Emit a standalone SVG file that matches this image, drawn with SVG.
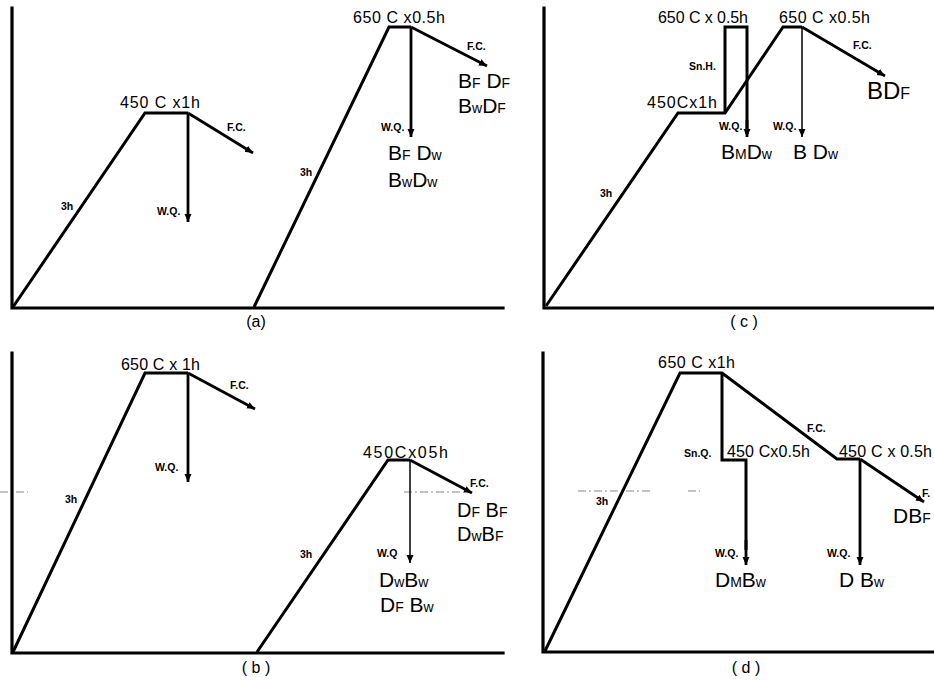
<svg xmlns="http://www.w3.org/2000/svg" width="934" height="680" viewBox="0 0 934 680">
<style>
.ax{stroke:#000;stroke-width:3.2;fill:none;stroke-linecap:square}
.ln{stroke:#000;stroke-width:3;fill:none;stroke-linejoin:miter;stroke-linecap:butt}
.ar{stroke:#000;stroke-width:2.8;fill:none;marker-end:url(#ah)}
.th{stroke:#000;stroke-width:1.5;fill:none;marker-end:url(#ah)}
.ds{stroke:#888;stroke-width:1;stroke-dasharray:8 3 2 3;fill:none}
text{font-family:"Liberation Sans",Arial,sans-serif;fill:#000}
.t{font-size:16px}
.s{font-size:10.5px;font-weight:bold}
.b{font-size:21px}
.sub{font-size:14px}
.c{font-size:16px;text-anchor:middle}
</style>
<defs>
<marker id="ah" markerUnits="userSpaceOnUse" markerWidth="10" markerHeight="8" refX="8" refY="3.5" orient="auto">
<path d="M0,0 L8,3.5 L0,7 z" fill="#000"/>
</marker>
</defs>
<rect width="934" height="680" fill="#fff"/>
<g id="scan-marks">
<path class="ds" d="M0,492 H28 M404,492 H470 M578,491 H650 M688,491 H700"/>
</g>
<g id="panel-a">
<path class="ax" d="M12,8 V308 H503"/>
<path class="ln" d="M13,307 L145,113 L188,113"/>
<path class="ln" d="M254,307 L389,27 L411,27"/>
<text class="t" x="120" y="108" textLength="80" lengthAdjust="spacing">450 C x1h</text>
<text class="t" x="353" y="23" textLength="92" lengthAdjust="spacing">650 C x0.5h</text>
<text class="s" x="227" y="131">F.C.</text>
<text class="s" x="157" y="215">W.Q.</text>
<text class="s" x="61" y="210">3h</text>
<text class="s" x="381" y="131">W.Q.</text>
<text class="s" x="300" y="176">3h</text>
<text class="s" x="467" y="50">F.C.</text>
<text class="b" x="458" y="88">B<tspan class="sub">F</tspan> D<tspan class="sub">F</tspan></text>
<text class="b" x="458" y="113">B<tspan class="sub">w</tspan>D<tspan class="sub">F</tspan></text>
<text class="b" x="388" y="160">B<tspan class="sub">F</tspan> D<tspan class="sub">w</tspan></text>
<text class="b" x="388" y="187">B<tspan class="sub">w</tspan>D<tspan class="sub">w</tspan></text>
<text class="c" x="256" y="327">(a)</text>
</g>
<g id="panel-c">
<path class="ax" d="M544,8 V308 H934"/>
<path class="ln" d="M546,306 L678,113 L725,113 L783,27 L802,27"/>
<text class="t" x="658" y="23" textLength="90" lengthAdjust="spacing">650 C x 0.5h</text>
<text class="t" x="779" y="23" textLength="91" lengthAdjust="spacing">650 C x0.5h</text>
<text class="t" x="647" y="108" textLength="70" lengthAdjust="spacing">450Cx1h</text>
<text class="s" x="689" y="70">Sn.H.</text>
<text class="s" x="719" y="130">W.Q.</text>
<text class="s" x="773" y="130">W.Q.</text>
<text class="s" x="853" y="49">F.C.</text>
<text class="s" x="600" y="197">3h</text>
<text class="b" x="867" y="99" style="font-size:24px">BD<tspan class="sub" style="font-size:16px">F</tspan></text>
<text class="b" x="721" y="159">B<tspan class="sub">M</tspan>D<tspan class="sub">w</tspan></text>
<text class="b" x="793" y="159">B D<tspan class="sub">w</tspan></text>
<text class="c" x="744" y="327">( c )</text>
</g>
<g id="panel-b">
<path class="ax" d="M12,353 V653 H503"/>
<path class="ln" d="M13,652 L145,373 L188,373"/>
<path class="ln" d="M257,652 L388,460 L410,460"/>
<text class="t" x="121" y="370" textLength="79" lengthAdjust="spacing">650 C x 1h</text>
<text class="t" x="363" y="458" textLength="85" lengthAdjust="spacing">450Cx05h</text>
<text class="s" x="230" y="389">F.C.</text>
<text class="s" x="155" y="471">W.Q.</text>
<text class="s" x="65" y="503">3h</text>
<text class="s" x="300" y="558">3h</text>
<text class="s" x="470" y="487">F.C.</text>
<text class="s" x="377" y="557">W.Q</text>
<text class="b" x="457" y="517" style="font-size:20px">D<tspan class="sub">F</tspan> B<tspan class="sub">F</tspan></text>
<text class="b" x="457" y="541" style="font-size:20px">D<tspan class="sub">w</tspan>B<tspan class="sub">F</tspan></text>
<text class="b" x="379" y="587">D<tspan class="sub">w</tspan>B<tspan class="sub">w</tspan></text>
<text class="b" x="380" y="612">D<tspan class="sub">F</tspan> B<tspan class="sub">w</tspan></text>
<text class="c" x="256" y="673">( b )</text>
</g>
<g id="panel-d">
<path class="ax" d="M543,353 V652 H934"/>
<path class="ln" d="M545,651 L680,373 L722,373 L837,459 L860,459"/>
<text class="t" x="658" y="368" textLength="77" lengthAdjust="spacing">650 C x1h</text>
<text class="t" x="727" y="457" textLength="83" lengthAdjust="spacing">450 Cx0.5h</text>
<text class="t" x="839" y="457" textLength="93" lengthAdjust="spacing">450 C x 0.5h</text>
<text class="s" x="807" y="432">F.C.</text>
<text class="s" x="684" y="457">Sn.Q.</text>
<text class="s" x="922" y="497">F.</text>
<text class="s" x="596" y="505">3h</text>
<text class="s" x="715" y="557">W.Q.</text>
<text class="s" x="827" y="557">W.Q.</text>
<text class="b" x="893" y="523">DB<tspan class="sub">F</tspan></text>
<text class="b" x="715" y="587">D<tspan class="sub">M</tspan>B<tspan class="sub">w</tspan></text>
<text class="b" x="839" y="587">D B<tspan class="sub">w</tspan></text>
<text class="c" x="746" y="673">( d )</text>
</g>
<g id="connectors">
<line class="ar" x1="188" y1="113" x2="188" y2="222"/>
<line class="ar" x1="188" y1="113" x2="253" y2="153"/>
<line class="ar" x1="411" y1="27" x2="411" y2="137"/>
<line class="ar" x1="411" y1="27" x2="487" y2="66"/>
<line class="ar" x1="802" y1="27" x2="885" y2="76"/>
<line class="th" x1="802" y1="27" x2="802" y2="137"/>
<path class="ln" d="M725,113 V27 H747 V134"/>
<line class="ar" x1="747" y1="120" x2="747" y2="137"/>
<line class="ar" x1="188" y1="373" x2="188" y2="482"/>
<line class="ar" x1="188" y1="373" x2="255" y2="409"/>
<line class="ar" x1="410" y1="460" x2="472" y2="493"/>
<line class="th" x1="410" y1="460" x2="410" y2="563"/>
<line class="ar" x1="860" y1="459" x2="924" y2="502"/>
<path class="ln" d="M722,373 V460 H746 V550"/>
<line class="ar" x1="746" y1="540" x2="746" y2="565"/>
<line class="ar" x1="860" y1="459" x2="860" y2="565"/>
</g>
</svg>
